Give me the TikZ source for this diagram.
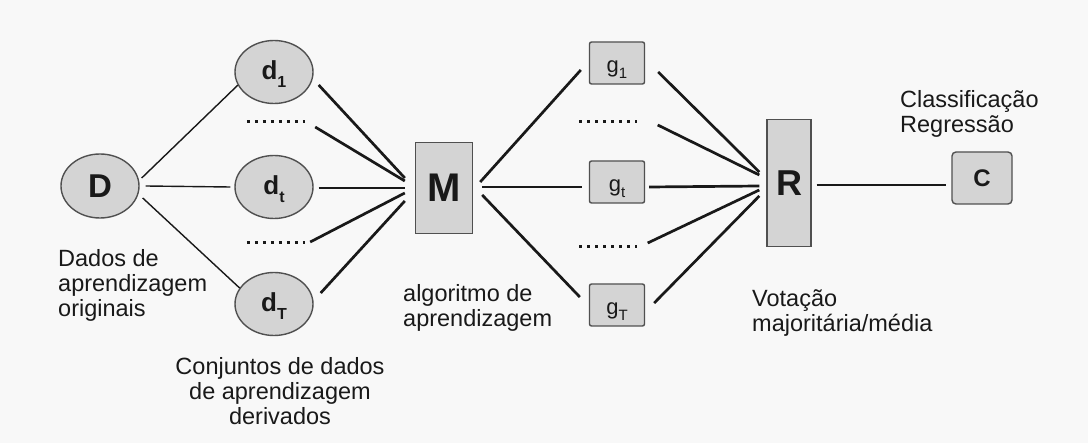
\documentclass[tikz,border=0pt]{standalone}
\usepackage{fontspec}
\setmainfont{Liberation Sans}
\usetikzlibrary{shapes.geometric}
\definecolor{nodefill}{RGB}{212,212,212}
\definecolor{nodedraw}{RGB}{80,80,80}
\definecolor{ink}{RGB}{25,25,25}
\definecolor{bg}{RGB}{248,248,248}
\newcommand\lowsub[3]{\raisebox{-#1}{\fontsize{#2}{#2}\selectfont #3}}
\begin{document}
\begin{tikzpicture}[x=1pt,y=-1pt,
  circ/.style={ellipse, draw=nodedraw, line width=1.4pt, fill=nodefill,
    minimum width=78pt, minimum height=63pt, inner sep=0pt},
  gbox/.style={rectangle, rounded corners=2pt, draw=nodedraw, line width=1.4pt,
    fill=nodefill, minimum width=55pt, minimum height=42pt, inner sep=0pt},
  bigbox/.style={rectangle, draw=nodedraw, line width=1.4pt, fill=nodefill, inner sep=0pt},
  dotsnode/.style={minimum width=58pt, minimum height=3pt, inner sep=0pt},
  dotrow/.style={ink, line width=3pt, dash pattern=on 3pt off 5pt},
  thinln/.style={ink, line width=1.4pt},
  thickln/.style={ink, line width=2.7pt},
  lbl/.style={font=\fontsize{23.5}{25}\selectfont, inner sep=0pt, text=ink},
  dlbl/.style={font=\fontsize{26}{26}\selectfont\bfseries, text=ink},
  glbl/.style={font=\fontsize{22}{22}\selectfont, text=ink}
]
\fill[bg] (0,0) rectangle (1088,443);
\useasboundingbox (0,0) rectangle (1088,443);

% nodes
\node[circ, minimum height=64pt] (D) at (100,186) {\fontsize{33}{33}\selectfont\bfseries\color{ink}D};
\node[circ] (d1) at (274,72) {};
\node[dlbl] at (274,74) {d\lowsub{8pt}{16}{1}};
\node[circ] (dt) at (274,187) {};
\node[dlbl] at (274,189) {d\lowsub{8pt}{16}{t}};
\node[circ] (dT) at (274,304) {};
\node[dlbl] at (274,306) {d\lowsub{8pt}{16}{T}};

\node[dotsnode] (du) at (276,122) {};
\node[dotsnode] (dl) at (276,243) {};
\draw[dotrow] (du.west) -- (du.east);
\draw[dotrow] (dl.west) -- (dl.east);

\node[bigbox, minimum width=57pt, minimum height=91pt] (M) at (444,188)
  {\fontsize{40}{40}\selectfont\bfseries\color{ink}M};

\node[gbox] (g1) at (617,63) {};
\node[glbl] at (617,70) {g\lowsub{6pt}{15}{1}};
\node[gbox] (gt) at (617,182) {};
\node[glbl] at (617,189) {g\lowsub{6pt}{15}{t}};
\node[gbox] (gT) at (617,305) {};
\node[glbl] at (617,312) {g\lowsub{6pt}{15}{T}};

\node[dotsnode, minimum width=57pt] (gu) at (608,122) {};
\node[dotsnode, minimum width=57pt] (gl) at (608,247) {};
\draw[dotrow] (gu.west) -- (gu.east);
\draw[dotrow] (gl.west) -- (gl.east);

\node[bigbox, minimum width=44pt, minimum height=127pt] (R) at (789,183)
  {\fontsize{36}{36}\selectfont\bfseries\color{ink}R};

\node[bigbox, rounded corners=4pt, minimum width=60pt, minimum height=52pt] (C) at (982,178)
  {\fontsize{24}{24}\selectfont\bfseries\color{ink}C};

% connectors D -> d
\draw[thinln] ([shift={(2,-8)}]D.east) -- (d1.200);
\draw[thinln] ([xshift=6pt]D.east) -- ([xshift=-4pt]dt.west);
\draw[thinln] ([shift={(3,12)}]D.east) -- (dT.155);

% d -> M
\draw[thickln] ([shift={(5,13)}]d1.east) -- ([shift={(-10,-10)}]M.west);
\draw[thickln] ([shift={(10,5)}]du.east) -- ([shift={(-10,-7)}]M.west);
\draw[thickln] ([shift={(5,1)}]dt.east) -- ([shift={(-10,0)}]M.west);
\draw[thickln] ([shift={(5,-1)}]dl.east) -- ([shift={(-10,5)}]M.west);
\draw[thickln] ([shift={(7,-11)}]dT.east) -- ([shift={(-10,13)}]M.west);

% M -> g
\draw[thickln] ([shift={(7,-6)}]M.east) -- ([shift={(-8,7)}]g1.west);
\draw[thickln] ([shift={(9,-1)}]M.east) -- ([shift={(-7,5)}]gt.west);
\draw[thickln] ([shift={(9,7)}]M.east) -- ([shift={(-9,-8)}]gT.west);

% g -> R
\draw[thickln] ([shift={(13,9)}]g1.east) -- ([shift={(-7,-11)}]R.west);
\draw[thickln] ([shift={(21,3)}]gu.east) -- ([shift={(-7,-8)}]R.west);
\draw[thickln] ([shift={(4,5)}]gt.east) -- ([shift={(-7,3)}]R.west);
\draw[thickln] ([shift={(11,-4)}]gl.east) -- ([shift={(-7,7)}]R.west);
\draw[thickln] ([shift={(9,-2)}]gT.east) -- ([shift={(-7,13)}]R.west);

% R -> C
\draw[thinln] ([shift={(5,2)}]R.east) -- ([shift={(-5,7)}]C.west);

% labels
\node[lbl, anchor=north west, align=left] (tD) at (58,249.5) {Dados de\\aprendizagem\\originais};
\node[lbl, anchor=north, align=center] (td) at (280,357) {Conjuntos de dados\\de aprendizagem\\derivados};
\node[lbl, anchor=north west, align=left] (tM) at (403,284.5) {algoritmo de\\aprendizagem};
\node[lbl, anchor=north west, align=left] (tR) at (752,289.5) {Votação\\majoritária/média};
\node[lbl, anchor=north west, align=left] (tC) at (900,90.5) {Classificação\\Regressão};
\end{tikzpicture}
\end{document}
